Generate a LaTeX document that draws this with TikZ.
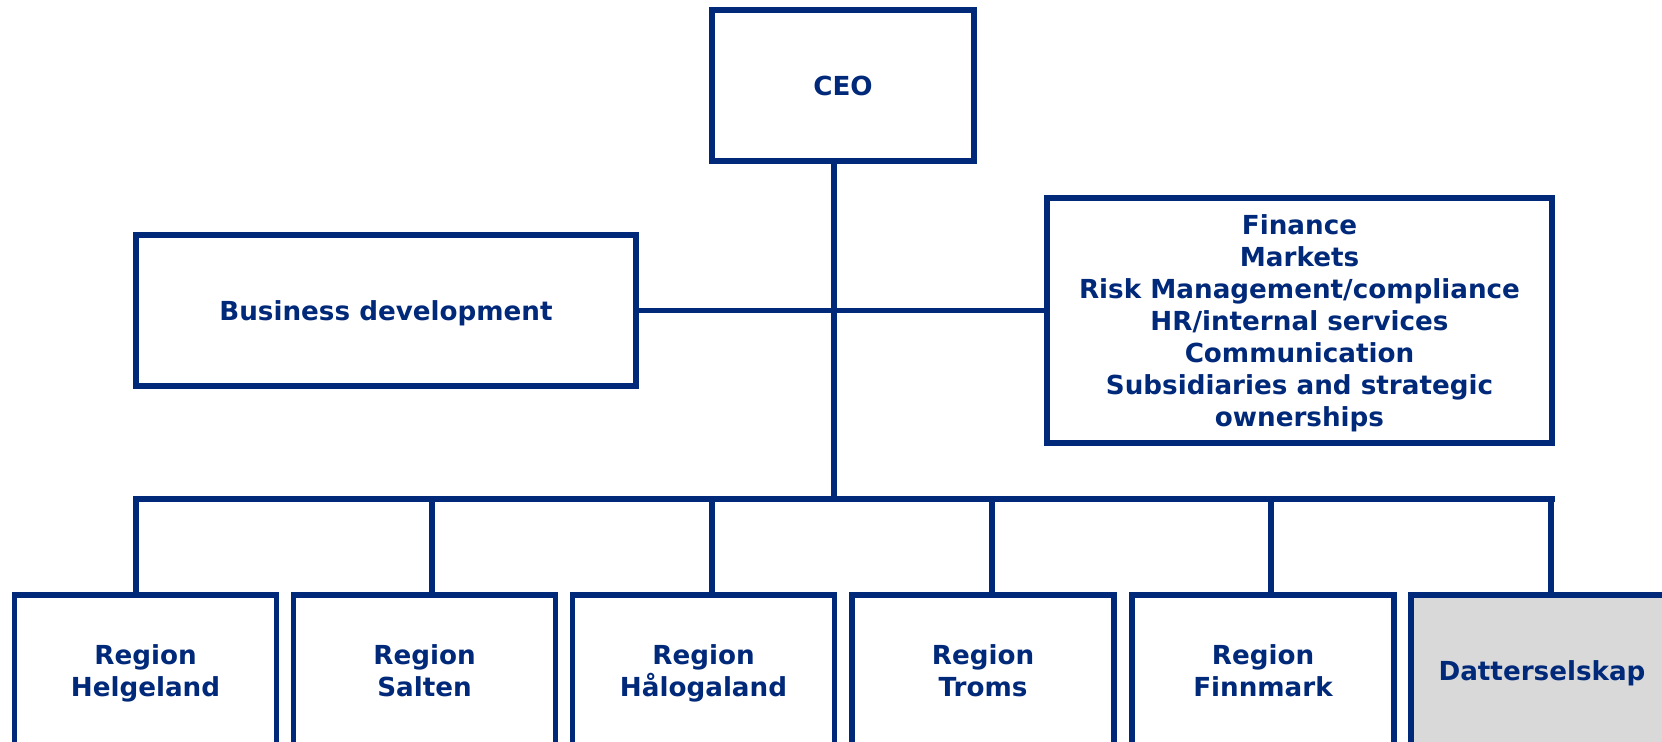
\documentclass[tikz,border=0pt]{standalone}
\usepackage{fontspec}
\setmainfont{DejaVu Sans}
\definecolor{navy}{RGB}{0,41,122}
\definecolor{subgrey}{RGB}{217,217,217}
\tikzset{
    every node/.style={font=\bfseries\fontsize{7.45}{9.1}\selectfont, text=navy},
    unit/.style={draw=navy, line width=1.6pt, fill=white, align=center, inner sep=0,
        minimum height=1.51cm, text depth=0pt},
    link/.style={draw=navy, line width=1.6pt},
}
\begin{document}
\begin{tikzpicture}[x=0.01cm, y=-0.01cm]
    \useasboundingbox (0,0) rectangle (1662,741);
    \clip (0,0) rectangle (1662,741);

    % top of the tree
    \node[unit, minimum width=2.62cm] (ceo) at (843,85.5) {CEO};
    \node[unit, minimum width=5cm] (bd) at (386,310.5) {Business development};
    \node[unit, minimum width=5.05cm, minimum height=2.45cm] (staff) at (1299.5,320.5)
        {Finance\\Markets\\Risk Management/compliance\\HR/internal services\\Communication\\Subsidiaries and strategic\\ownerships};

    % regions along the bottom
    \foreach \n/\x/\t in {r1/145.5/{Region\\Helgeland}, r2/424.5/{Region\\Salten},
                          r3/703.5/{Region\\Hålogaland}, r4/983/{Region\\Troms},
                          r5/1263/{Region\\Finnmark}}
        \node[unit, minimum width=2.62cm] (\n) at (\x,670.5) {\t};
    \node[unit, minimum width=2.62cm, fill=subgrey] (r6) at (1542,670.5) {Datterselskap};

    \coordinate (bus) at (834,499);
    \draw[link] (ceo.south -| bus) -- (bus);
    \draw[link] (bd.east) -- (bd.east -| staff.west);
    \draw[link] (bd.west |- bus) -- (staff.east |- bus);
    \foreach \n/\dx in {r1/-9.5,r2/7.5,r3/8.5,r4/9,r5/8,r6/9}
        \draw[link] ([xshift=\dx*0.01cm]\n.north) -- ([xshift=\dx*0.01cm]\n.north |- bus);
\end{tikzpicture}
\end{document}
